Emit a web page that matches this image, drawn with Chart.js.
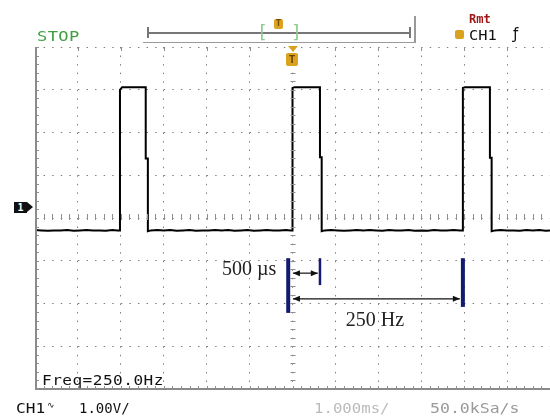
<!DOCTYPE html>
<html>
<head>
<meta charset="utf-8">
<script src="https://cdn.jsdelivr.net/npm/chart.js@4.4.0/dist/chart.umd.min.js"></script>
<style>
  body { margin: 0; background: #fff; }
  #wrap { position: relative; width: 550px; height: 418px; overflow: hidden; font-family: "DejaVu Sans Mono", monospace; }
  #scope { position: absolute; left: 0; top: 0; }
  .t { position: absolute; white-space: pre; line-height: 1; }
  .w { transform-origin: 0 0; }
  .ln { position: absolute; background: #777; }
</style>
</head>
<body>
<div id="wrap">
  <canvas id="scope" width="550" height="418"></canvas>

  <!-- status bar -->
  <div class="t w" style="left:37px;top:29px;font-size:14px;letter-spacing:0.3px;transform:scaleX(1.22);color:#3f9f3f;">STOP</div>
  <div class="ln" style="left:147px;top:32px;width:263px;height:2px;"></div>
  <div class="ln" style="left:147px;top:27px;width:2px;height:11px;"></div>
  <div class="ln" style="left:409px;top:27px;width:2px;height:11px;"></div>
  <div class="ln" style="left:143px;top:42px;width:272px;height:1px;background:#999;"></div>
  <div class="ln" style="left:414px;top:16px;width:2px;height:27px;background:#999;"></div>
  <div class="t" style="left:257px;top:23px;font-size:18px;color:#8fc98f;">[</div>
  <div class="t" style="left:291px;top:23px;font-size:18px;color:#8fc98f;">]</div>
  <div class="t" style="left:274px;top:19px;width:9px;height:10px;background:#d9a21f;border-radius:2px;font-size:9px;color:#7a4b00;text-align:center;font-weight:bold;">T</div>
  <div class="t" style="left:469px;top:13px;font-size:12px;font-weight:bold;color:#a01818;">Rmt</div>
  <div class="t" style="left:455px;top:30px;width:9px;height:9px;background:#d9a21f;border-radius:2px;"></div>
  <div class="t w" style="left:469px;top:28px;font-size:14px;transform:scaleX(1.1);color:#111;">CH1</div>
  <div class="t" style="left:513px;top:27px;font-size:15px;color:#111;font-family:'DejaVu Sans',sans-serif;">&#x0192;</div>

  <!-- trigger position marker -->
  <div class="t" style="left:288px;top:46px;width:0;height:0;border-left:5px solid transparent;border-right:5px solid transparent;border-top:6px solid #d9a21f;"></div>
  <div class="t" style="left:286px;top:53px;width:12px;height:13px;background:#d9a21f;border-radius:2px;font-size:11px;color:#6b3f00;text-align:center;font-weight:bold;padding-top:1px;box-sizing:border-box;">T</div>

  <!-- channel 1 ground marker -->
  <div class="t" style="left:14px;top:202px;width:13px;height:11px;background:#111;color:#fff;font-size:10px;font-weight:bold;text-align:center;padding-top:1px;box-sizing:border-box;">1</div>
  <div class="t" style="left:27px;top:202px;width:0;height:0;border-top:5.5px solid transparent;border-bottom:5.5px solid transparent;border-left:6px solid #111;"></div>

  <div class="t w" style="left:42px;top:373px;font-size:14px;letter-spacing:0.4px;transform:scaleX(1.15);color:#111;">Freq=250.0Hz</div>

  <!-- bottom bar -->
  <div class="t w" style="left:16px;top:401px;font-size:14px;transform:scaleX(1.15);color:#111;">CH1</div>
  <div class="t" style="left:47px;top:401px;font-size:9px;color:#111;">&#x223F;</div>
  <div class="t" style="left:79px;top:401px;font-size:14px;color:#111;">1.00V/</div>
  <div class="t w" style="left:314px;top:401px;font-size:14px;transform:scaleX(1.12);color:#bbb;">1.000ms/</div>
  <div class="t w" style="left:430px;top:401px;font-size:14px;transform:scaleX(1.18);color:#999;">50.0kSa/s</div>
</div>

<script>
// screen: 12 divisions of 1 ms, 8 divisions of 1 V
const timeRangeMs = [-6, 6];
const voltRange = [-4, 4];

// captured CH1 trace (ms, V)
const traceTimeMs = [
  -6, -5.85, -5.7, -5.55, -5.4, -5.25, -5.1, -4.95, -4.8, -4.65, -4.5, -4.35, -4.2, -4.08,
  -4.02, -4.02, -3.97, -3.42, -3.42, -3.37, -3.37, -3.3,
  -3.15, -3.0, -2.85, -2.7, -2.55, -2.4, -2.25, -2.1, -1.95, -1.8, -1.65, -1.5, -1.35, -1.2,
  -1.05, -0.9, -0.75, -0.6, -0.45, -0.3, -0.15, -0.05,
  0.0, 0.0, 0.05, 0.64, 0.64, 0.68, 0.68, 0.75,
  0.9, 1.05, 1.2, 1.35, 1.5, 1.65, 1.8, 1.95, 2.1, 2.25, 2.4, 2.55, 2.7, 2.85, 3.0,
  3.15, 3.3, 3.45, 3.6, 3.75, 3.9,
  3.97, 3.97, 4.02, 4.6, 4.6, 4.64, 4.64, 4.72,
  4.85, 5.0, 5.15, 5.3, 5.45, 5.6, 5.75, 5.9, 6
];
const traceVolts = [
  -0.28, -0.29, -0.3, -0.29, -0.29, -0.28, -0.3, -0.29, -0.28, -0.29, -0.29, -0.3, -0.28, -0.29,
  -0.29, 3.0, 3.06, 3.06, 1.39, 1.39, -0.31, -0.29,
  -0.28, -0.29, -0.28, -0.3, -0.29, -0.28, -0.3, -0.29, -0.29, -0.28, -0.29, -0.28, -0.3, -0.29,
  -0.28, -0.3, -0.29, -0.28, -0.29, -0.29, -0.28, -0.29,
  -0.29, 3.04, 3.06, 3.06, 1.42, 1.42, -0.31, -0.29,
  -0.28, -0.29, -0.3, -0.29, -0.28, -0.29, -0.28, -0.29, -0.3, -0.28, -0.29, -0.29, -0.28, -0.3, -0.29,
  -0.3, -0.28, -0.29, -0.29, -0.28, -0.29,
  -0.29, 3.04, 3.06, 3.06, 1.41, 1.41, -0.31, -0.29,
  -0.28, -0.29, -0.29, -0.3, -0.28, -0.29, -0.28, -0.3, -0.29
];

// measurement overlay
const cursorTimesMs = [-0.1, 0.64, 3.97];
const cursorTopV = [-0.94, -0.94, -0.94];
const cursorBottomV = [-2.22, -1.57, -2.08];
const arrowStartMs = [0.01, 0.01];
const arrowEndMs = [0.59, 3.9];
const arrowLevelV = [-1.29, -1.89];
const noteText = ["500 \u00b5s", "250 Hz"];
const noteTimeMs = [-0.38, 1.92];
const noteVolts = [-1.22, -2.41];

const overlay = {
  id: "overlay",
  afterDatasetsDraw(chart) {
    const { ctx, chartArea: a, scales: { x, y } } = chart;
    ctx.save();

    // frame
    ctx.strokeStyle = "#8a8a8a";
    ctx.lineWidth = 2;
    ctx.beginPath();
    ctx.moveTo(a.left + 1, a.top);
    ctx.lineTo(a.left + 1, a.bottom);
    ctx.moveTo(a.left, a.bottom);
    ctx.lineTo(a.right, a.bottom);
    ctx.stroke();

    // fine ticks on centre lines and frame
    ctx.strokeStyle = "#8f8f8f";
    ctx.lineWidth = 1;
    ctx.beginPath();
    const cx = x.getPixelForValue(0), cy = y.getPixelForValue(0);
    for (let v = timeRangeMs[0]; v <= timeRangeMs[1] + 1e-6; v += 0.2) {
      const px = Math.round(x.getPixelForValue(v)) + 0.5;
      ctx.moveTo(px, cy - 4); ctx.lineTo(px, cy + 2);
      ctx.moveTo(px, a.bottom - 3); ctx.lineTo(px, a.bottom);
      if (Math.abs(v - Math.round(v)) < 1e-6) { ctx.moveTo(px, a.top); ctx.lineTo(px, a.top + 4); }
    }
    for (let v = voltRange[0]; v <= voltRange[1] + 1e-6; v += 0.2) {
      const py = Math.round(y.getPixelForValue(v)) + 0.5;
      ctx.moveTo(cx - 2, py); ctx.lineTo(cx + 3, py);
      ctx.moveTo(a.left + 2, py); ctx.lineTo(a.left + 4, py);
    }
    ctx.stroke();

    // cursor bars
    ctx.strokeStyle = "#141a6e";
    cursorTimesMs.forEach((t, i) => {
      ctx.lineWidth = i === 1 ? 2.5 : 4;
      ctx.beginPath();
      ctx.moveTo(x.getPixelForValue(t), y.getPixelForValue(cursorTopV[i]));
      ctx.lineTo(x.getPixelForValue(t), y.getPixelForValue(cursorBottomV[i]));
      ctx.stroke();
    });

    // double arrows
    ctx.strokeStyle = "#111";
    ctx.fillStyle = "#111";
    ctx.lineWidth = 1.2;
    arrowStartMs.forEach((t0, i) => {
      const x0 = x.getPixelForValue(t0), x1 = x.getPixelForValue(arrowEndMs[i]);
      const py = y.getPixelForValue(arrowLevelV[i]);
      ctx.beginPath(); ctx.moveTo(x0, py); ctx.lineTo(x1, py); ctx.stroke();
      [[x0, 1], [x1, -1]].forEach(([px, d]) => {
        ctx.beginPath();
        ctx.moveTo(px, py);
        ctx.lineTo(px + 7 * d, py - 3);
        ctx.lineTo(px + 7 * d, py + 3);
        ctx.closePath();
        ctx.fill();
      });
    });

    // labels
    ctx.font = "20px 'Liberation Serif', serif";
    ctx.textBaseline = "middle";
    ctx.fillStyle = "#222";
    noteText.forEach((s, i) => {
      ctx.textAlign = i === 0 ? "right" : "center";
      ctx.fillText(s, x.getPixelForValue(noteTimeMs[i]), y.getPixelForValue(noteVolts[i]));
    });
    ctx.restore();
  }
};

new Chart(document.getElementById("scope"), {
  type: "line",
  data: {
    datasets: [{
      data: traceTimeMs.map((t, i) => ({ x: t, y: traceVolts[i] })),
      borderColor: "#000",
      borderWidth: 2,
      pointRadius: 0,
      tension: 0,
      fill: false
    }]
  },
  options: {
    responsive: false,
    animation: false,
    devicePixelRatio: 1,
    layout: { padding: { left: 35, right: 0, top: 47, bottom: 29 } },
    plugins: { legend: { display: false }, tooltip: { enabled: false } },
    scales: {
      x: {
        type: "linear",
        min: timeRangeMs[0],
        max: timeRangeMs[1],
        ticks: { stepSize: 1, display: false },
        grid: { color: "#808080", lineWidth: 1, drawTicks: false },
        border: { display: false, dash: [1.5, 7.05] }
      },
      y: {
        min: voltRange[0],
        max: voltRange[1],
        ticks: { stepSize: 1, display: false },
        grid: { color: "#808080", lineWidth: 1, drawTicks: false },
        border: { display: false, dash: [1.5, 7.08] }
      }
    }
  },
  plugins: [overlay]
});
</script>
</body>
</html>
